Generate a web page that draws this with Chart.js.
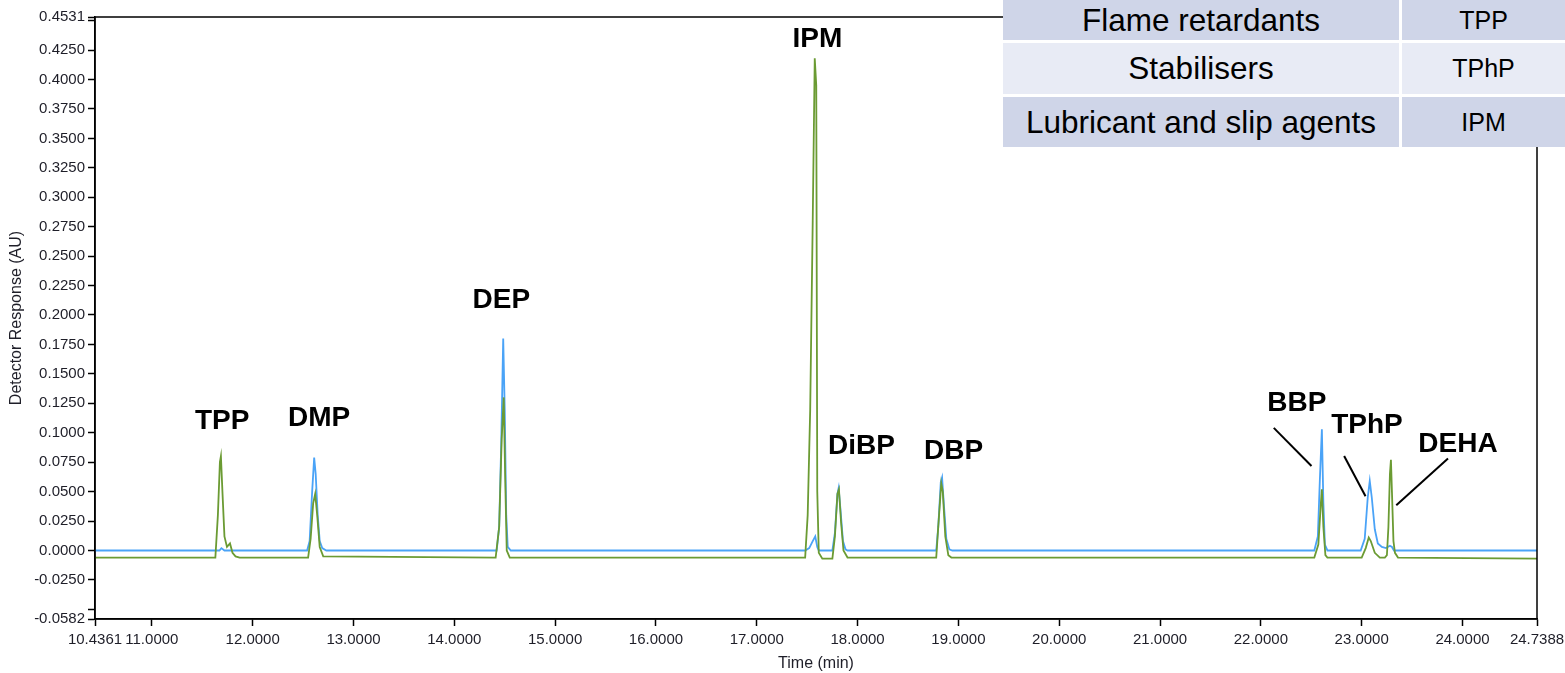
<!DOCTYPE html>
<html>
<head>
<meta charset="utf-8">
<title>Chromatogram</title>
<script src="https://cdn.jsdelivr.net/npm/chart.js@4.4.1/dist/chart.umd.min.js"></script>
<style>
  html, body { margin: 0; padding: 0; background: #fff; }
  #wrap { position: relative; width: 1565px; height: 673px; overflow: hidden; }
  #chart { position: absolute; left: 0; top: 0; }
  #classes {
    position: absolute; left: 1003px; top: 0;
    display: grid; grid-template-columns: 396px 163px; grid-template-rows: 40px 51px 50px;
    gap: 3px; background: #fff; z-index: 2;
    font-family: Arial, "Liberation Sans", sans-serif; font-size: 31.5px; color: #000;
  }
  #classes div { display: flex; align-items: center; justify-content: center; }
  #classes .dark { background: #cfd5e8; }
  #classes .light { background: #e8ebf5; }
  #classes .code { font-size: 25px; }
</style>
</head>
<body>
<div id="wrap">
  <canvas id="chart" width="1565" height="673"></canvas>
  <div id="classes"></div>
</div>
<script>
// ============================================================
// Data
// ============================================================

// green trace (sample)
const greenTime = [10.4361,
  11.630, 11.655, 11.675, 11.685, 11.700, 11.720, 11.745, 11.775, 11.800, 11.830, 11.870,
  12.550, 12.575, 12.600, 12.620, 12.640, 12.665, 12.700,
  14.410, 14.445, 14.470, 14.490, 14.505, 14.520, 14.550,
  17.480, 17.505, 17.530, 17.555, 17.575, 17.590, 17.600, 17.615, 17.650,
  17.750, 17.775, 17.800, 17.815, 17.835, 17.860, 17.900,
  18.780, 18.800, 18.830, 18.845, 18.870, 18.900, 18.930,
  22.530, 22.570, 22.595, 22.605, 22.620, 22.640, 22.660,
  23.000, 23.040, 23.070, 23.090, 23.130, 23.180, 23.230,
  23.250, 23.265, 23.280, 23.290, 23.300, 23.315, 23.330, 23.360,
  24.7388];
const greenResp = [-0.006,
  -0.006, 0.030, 0.075, 0.080, 0.050, 0.012, 0.003, 0.006, -0.002, -0.005, -0.006,
  -0.006, 0.010, 0.040, 0.048, 0.030, 0.003, -0.005,
  -0.006, 0.020, 0.095, 0.130, 0.060, 0.000, -0.006,
  -0.006, 0.030, 0.120, 0.280, 0.418, 0.395, 0.050, -0.002, -0.007,
  -0.007, 0.012, 0.048, 0.052, 0.025, 0.000, -0.006,
  -0.006, 0.020, 0.057, 0.050, 0.012, -0.004, -0.006,
  -0.006, 0.005, 0.040, 0.052, 0.020, -0.004, -0.006,
  -0.006, 0.002, 0.011, 0.008, -0.002, -0.006, -0.006,
  -0.004, 0.020, 0.065, 0.077, 0.050, 0.008, -0.002, -0.006,
  -0.007];

// blue trace (standard)
const blueTime = [10.4361,
  11.670, 11.690, 11.720,
  12.540, 12.565, 12.590, 12.610, 12.625, 12.645, 12.665, 12.690, 12.730,
  14.420, 14.445, 14.465, 14.485, 14.500, 14.515, 14.530, 14.560,
  17.480, 17.520, 17.555, 17.580, 17.600, 17.615,
  17.750, 17.775, 17.800, 17.812, 17.830, 17.855, 17.880, 17.900,
  18.780, 18.800, 18.825, 18.838, 18.855, 18.880, 18.910, 18.940,
  22.530, 22.565, 22.585, 22.605, 22.620, 22.635, 22.660,
  22.990, 23.030, 23.060, 23.080, 23.100, 23.130, 23.160, 23.200, 23.240, 23.280, 23.300, 23.320,
  24.7388];
const blueResp = [0.000,
  0.000, 0.002, 0.000,
  0.000, 0.008, 0.050, 0.079, 0.065, 0.030, 0.008, 0.002, 0.000,
  0.000, 0.020, 0.090, 0.180, 0.120, 0.030, 0.003, 0.000,
  0.000, 0.002, 0.008, 0.012, 0.003, 0.000,
  0.000, 0.015, 0.048, 0.053, 0.035, 0.008, 0.001, 0.000,
  0.000, 0.020, 0.058, 0.062, 0.040, 0.010, 0.001, 0.000,
  0.000, 0.012, 0.060, 0.103, 0.040, 0.005, 0.000,
  0.000, 0.010, 0.045, 0.059, 0.045, 0.018, 0.006, 0.003, 0.002, 0.004, 0.003, 0.000,
  0.000];

// axes
const xTicks = [10.4361, 11, 12, 13, 14, 15, 16, 17, 18, 19, 20, 21, 22, 23, 24, 24.7388];
const yTicks = [-0.0582, -0.05, -0.025, 0, 0.025, 0.05, 0.075, 0.1, 0.125, 0.15, 0.175, 0.2,
  0.225, 0.25, 0.275, 0.3, 0.325, 0.35, 0.375, 0.4, 0.425, 0.45, 0.4531];
const yUnlabelled = [-0.05, 0.45];

// peak names, placed in data coordinates
const peakNames = ['TPP', 'DMP', 'DEP', 'IPM', 'DiBP', 'DBP', 'BBP', 'TPhP', 'DEHA'];
const peakLabelTime = [11.697, 12.659, 14.466, 17.602, 18.039, 18.952, 22.357, 23.052, 23.955];
const peakLabelResp = [0.110, 0.112, 0.2125, 0.434, 0.0887, 0.0845, 0.1246, 0.1067, 0.0904];

// leader lines for the crowded peaks: [t1, v1, t2, v2]
const leaders = [
  [22.128, 0.1041, 22.502, 0.0717],
  [22.826, 0.0802, 23.038, 0.0461],
  [23.856, 0.0782, 23.343, 0.0384]
];

// table in the corner
const tableGroups = ['Flame retardants', 'Stabilisers', 'Lubricant and slip agents'];
const tableCodes = ['TPP', 'TPhP', 'IPM'];

// ============================================================
// Table
// ============================================================

const box = document.getElementById('classes');
tableGroups.forEach((g, i) => {
  const shade = i % 2 === 0 ? 'dark' : 'light';
  const a = document.createElement('div');
  a.className = shade;
  a.textContent = g;
  const b = document.createElement('div');
  b.className = shade + ' code';
  b.textContent = tableCodes[i];
  box.appendChild(a);
  box.appendChild(b);
});

// ============================================================
// Chart
// ============================================================

const GREEN = '#6b9b33';
const BLUE = '#4aa3f7';
const FONT = 'Arial, "Liberation Sans", sans-serif';
const tickFont = { family: FONT, size: 15 };
const titleFont = { family: FONT, size: 16 };

function toPoints(ts, vs) {
  return ts.map((t, i) => ({ x: t, y: vs[i] }));
}

const framePlugin = {
  id: 'frame',
  afterDatasetsDraw(chart) {
    const { ctx, chartArea: a } = chart;
    ctx.save();
    ctx.strokeStyle = '#000';
    ctx.lineWidth = 1.5;
    ctx.strokeRect(a.left, a.top, a.right - a.left, a.bottom - a.top);
    ctx.restore();
  }
};

const peakLabelPlugin = {
  id: 'peakLabels',
  afterDatasetsDraw(chart) {
    const { ctx, scales: { x, y } } = chart;
    ctx.save();
    ctx.fillStyle = '#000';
    ctx.font = 'bold 28px ' + FONT;
    ctx.textAlign = 'center';
    ctx.textBaseline = 'middle';
    peakNames.forEach((name, i) => {
      ctx.fillText(name, x.getPixelForValue(peakLabelTime[i]), y.getPixelForValue(peakLabelResp[i]));
    });
    ctx.strokeStyle = '#000';
    ctx.lineWidth = 2;
    leaders.forEach(([t1, v1, t2, v2]) => {
      ctx.beginPath();
      ctx.moveTo(x.getPixelForValue(t1), y.getPixelForValue(v1));
      ctx.lineTo(x.getPixelForValue(t2), y.getPixelForValue(v2));
      ctx.stroke();
    });
    ctx.restore();
  }
};

new Chart(document.getElementById('chart'), {
  type: 'line',
  data: {
    datasets: [
      {
        label: 'Sample',
        data: toPoints(greenTime, greenResp),
        borderColor: GREEN,
        borderWidth: 1.8,
        pointRadius: 0,
        tension: 0,
        order: 0
      },
      {
        label: 'Standard',
        data: toPoints(blueTime, blueResp),
        borderColor: BLUE,
        borderWidth: 1.8,
        pointRadius: 0,
        tension: 0,
        order: 1
      }
    ]
  },
  options: {
    responsive: false,
    animation: false,
    layout: { padding: { top: 17, right: 28, left: 0, bottom: 0 } },
    plugins: {
      legend: { display: false },
      tooltip: { enabled: false }
    },
    scales: {
      x: {
        type: 'linear',
        min: xTicks[0],
        max: xTicks[xTicks.length - 1],
        afterBuildTicks: s => { s.ticks = xTicks.map(v => ({ value: v })); },
        afterFit: s => {
          s.height = 54;
          // let the end labels hang past the plot, as in the original
          s.paddingLeft = 0;
          s.paddingRight = 0;
        },
        ticks: {
          autoSkip: false,
          maxRotation: 0,
          padding: 5,
          color: '#1e1e28',
          font: tickFont,
          callback: v => Number(v).toFixed(4)
        },
        grid: { drawOnChartArea: false, tickLength: 7, tickColor: '#000', tickWidth: 1.5 },
        border: { color: '#000', width: 1.5 },
        title: { display: true, text: 'Time (min)', color: '#1e1e28', font: titleFont, padding: { top: 0, bottom: 0 } }
      },
      y: {
        min: yTicks[0],
        max: yTicks[yTicks.length - 1],
        afterBuildTicks: s => { s.ticks = yTicks.map(v => ({ value: v })); },
        afterFit: s => { s.width = 95; },
        ticks: {
          autoSkip: false,
          padding: 3,
          color: '#1e1e28',
          font: tickFont,
          callback: v => (yUnlabelled.includes(v) ? '' : Number(v).toFixed(4))
        },
        grid: { drawOnChartArea: false, tickLength: 7, tickColor: '#000', tickWidth: 1.5 },
        border: { color: '#000', width: 1.5 },
        title: { display: true, text: 'Detector Response (AU)', color: '#1e1e28', font: titleFont, padding: { top: 7, bottom: 0 } }
      }
    }
  },
  plugins: [framePlugin, peakLabelPlugin]
});
</script>
</body>
</html>
